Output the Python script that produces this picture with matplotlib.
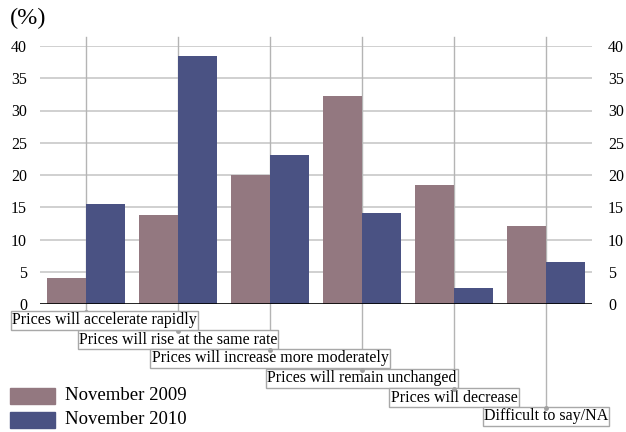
import matplotlib
matplotlib.use("Agg")
import matplotlib.pyplot as plt
import matplotlib.transforms as mtransforms
from matplotlib.patches import Rectangle
import numpy as np

categories = ["Prices will accelerate rapidly",
              "Prices will rise at the same rate",
              "Prices will increase more moderately",
              "Prices will remain unchanged",
              "Prices will decrease",
              "Difficult to say/NA"]
nov2009 = [4.1, 13.8, 20.0, 32.2, 18.5, 12.1]
nov2010 = [15.5, 38.5, 23.1, 14.1, 2.5, 6.5]
series_names = ["November 2009", "November 2010"]
yticks = [0, 5, 10, 15, 20, 25, 30, 35, 40]

c2009 = "#937880"
c2010 = "#4a5283"

plt.rcParams['font.family'] = ['Liberation Serif', 'DejaVu Serif']

W, H = 626, 432
fig = plt.figure(figsize=(W/100, H/100), dpi=100)
ax_left, ax_right = 40, 592
ax_top, ax_bot = 46, 304
ax = fig.add_axes([ax_left/W, 1-ax_bot/H, (ax_right-ax_left)/W, (ax_bot-ax_top)/H])

x = np.arange(len(categories))
bw = 0.42
ax.bar(x - bw/2, nov2009, width=bw, color=c2009, zorder=3)
ax.bar(x + bw/2, nov2010, width=bw, color=c2010, zorder=3)
ax.set_xlim(-0.5, len(categories)-0.5)
ax.set_ylim(0, 40)
ax.set_yticks(yticks)
for t in yticks[1:]:
    ax.axhline(t, color="#c8c8c8", lw=1.2, zorder=1)
ax.axhline(0, color="black", lw=1.2, zorder=4)
for s in ax.spines.values():
    s.set_visible(False)
ax.set_xticks([])
ax.tick_params(axis='y', length=0, pad=9.4, labelsize=11.5)

ax2 = ax.twinx()
ax2.set_ylim(0, 40)
ax2.set_yticks(yticks)
ax2.tick_params(axis='y', length=0, pad=11.5, labelsize=11.5)
for s in ax2.spines.values():
    s.set_visible(False)

# category labels with leader lines
axh = ax_bot - ax_top
box_tops = [312, 331, 350, 370, 389, 408]
trans = mtransforms.blended_transform_factory(ax.transData, ax.transAxes)
top_line = (ax_bot - 37) / axh
for i, cat in enumerate(categories):
    ty = (ax_bot - box_tops[i]) / axh
    ax.plot([x[i], x[i]], [ty, top_line], transform=trans, color="#b4b4b4",
            lw=1, clip_on=False, zorder=2)
    ax.plot([x[i]], [ty], transform=trans, marker='o', ms=2.5, color="#a0a0a0",
            clip_on=False, zorder=7)
    cy = 1 - (box_tops[i] + 8.5) / H
    if i == 0:
        fig.text(12/W, cy, cat, ha='left', va='center', fontsize=11.5, zorder=6,
                 bbox=dict(boxstyle='square,pad=0.08', fc='white', ec='#a8a8a8', lw=1))
    else:
        t = ax.text(x[i], 0, cat, ha='center', va='center', fontsize=11.5, zorder=6,
                    transform=mtransforms.blended_transform_factory(ax.transData, fig.transFigure),
                    bbox=dict(boxstyle='square,pad=0.08', fc='white', ec='#a8a8a8', lw=1))
        t.set_y(cy)
        t.set_clip_on(False)

fig.text(10/W, 1-18/H, "(%)", fontsize=17.5, ha='left', va='center')

# legend
for j, (name, col) in enumerate(zip(series_names, [c2009, c2010])):
    top = 388 + j*23.5
    fig.add_artist(Rectangle((10/W, 1-(top+16)/H), 45/W, 16/H,
                             transform=fig.transFigure, color=col))
    fig.text(65/W, 1-(top+8)/H, name, fontsize=13.5, ha='left', va='center')

fig.savefig("out.png", dpi=100)
